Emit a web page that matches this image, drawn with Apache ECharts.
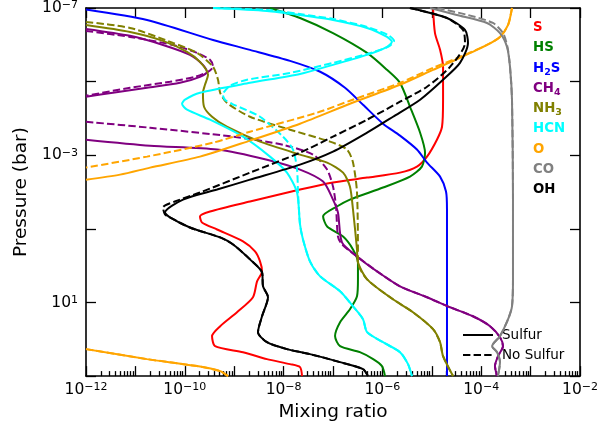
<!DOCTYPE html>
<html><head><meta charset="utf-8">
<script src="https://cdn.jsdelivr.net/npm/echarts@6/dist/echarts.min.js"></script>
<style>html,body{margin:0;padding:0;background:#fff}#c{width:613px;height:427px}</style>
</head><body><div id="c"></div>
<script>
// ---- axis ticks ----
const xMajor = [1e-12,1e-11,1e-10,1e-9,1e-8,1e-7,1e-6,1e-5,1e-4,1e-3,1e-2];
const xLabelVals = [1e-12,1e-10,1e-8,1e-6,1e-4,1e-2];
const yMajor = [1e-7,1e-5,1e-3,1e-1,1e1,1e3];
const yLabelVals = [1e-7,1e-3,1e1];

// ---- profiles: [mixing ratio, pressure (bar)] ----
// Sulfur run (solid)
const S_sulfur = [[1.06e-5,1e-7],[1.16e-5,4.8e-7],[1.47e-5,1.37e-6],[1.69e-5,3.97e-6],[1.69e-5,3.1e-5],[1.61e-5,1.68e-4],[1.27e-5,3.78e-4],[8.0e-6,1.09e-3],[5.0e-6,2.04e-3],[2.27e-6,2.97e-3],[4.9e-7,4.05e-3],[1.0e-7,5.5e-3],[2.15e-8,8.55e-3],[2.09e-9,1.81e-2],[3.24e-10,3.37e-2],[2.03e-10,4.6e-2],[2.23e-10,6.7e-2],[4.5e-10,0.104],[1.51e-9,0.219],[2.64e-9,0.41],[3.33e-9,0.763],[3.66e-9,1.43],[2.9e-9,2.66],[2.4e-9,7.2],[1.14e-9,18.4],[5.2e-10,44],[3.56e-10,82],[4.1e-10,154],[1.51e-9,224],[4.6e-9,346],[1.35e-8,473],[2.15e-8,570],[2.36e-8,1000]];
const HS_sulfur = [[5.3e-9,1e-7],[2.15e-8,1.87e-7],[1.0e-7,4.8e-7],[4.9e-7,1.66e-6],[1.24e-6,4.79e-6],[2.27e-6,1.08e-5],[3.62e-6,4.82e-5],[5.8e-6,2.44e-4],[7.3e-6,8.5e-4],[6.3e-6,2.04e-3],[3.62e-6,3.8e-3],[1.03e-6,7.55e-3],[2.2e-7,1.6e-2],[1.2e-7,2.47e-2],[6.3e-8,4.6e-2],[7.6e-8,8.6e-2],[1.6e-7,0.161],[2.54e-7,0.361],[3.2e-7,0.815],[3.2e-7,2.35],[3.06e-7,6.8],[2.2e-7,15.3],[1.39e-7,34.4],[1.1e-7,82],[1.39e-7,154],[3.5e-7,224],[6.5e-7,346],[9.8e-7,535],[1.13e-6,1000]];
const H2S_sulfur = [[1e-12,1.1e-7],[1.72e-11,2.11e-7],[3.73e-10,7.4e-7],[2.09e-9,1.37e-6],[1.35e-8,2.73e-6],[5.5e-8,5.4e-6],[1.75e-7,1.47e-5],[4.05e-7,4.26e-5],[1.03e-6,1.39e-4],[2.27e-6,2.94e-4],[5.0e-6,7.0e-4],[8.0e-6,1.58e-3],[1.47e-5,3.8e-3],[1.94e-5,9.7e-3],[2.03e-5,2.98e-2],[2.03e-5,1000]];
const CH4_sulfur_upper = [[1e-12,3.7e-7],[7.8e-12,5.7e-7],[3.62e-11,1.01e-6],[1.27e-10,1.88e-6],[2.33e-10,3.5e-6],[2.81e-10,5.4e-6],[2.03e-10,7.4e-6],[8.0e-11,1.08e-5],[1.72e-11,1.47e-5],[3.5e-12,2.01e-5],[1e-12,2.58e-5]];
const CH4_sulfur_lower = [[1e-12,3.78e-4],[1.98e-11,5.5e-4],[4.5e-10,7.0e-4],[4.6e-9,1.32e-3],[2.15e-8,2.45e-3],[6.3e-8,5.2e-3],[1.0e-7,1.6e-2],[1.26e-7,3.6e-2],[1.52e-7,0.234],[3.06e-7,0.56],[7.8e-7,1.43],[2.27e-6,3.64],[8.0e-6,7.2],[2.34e-5,13.5],[6.8e-5,23.7],[1.51e-4,44],[2.4e-4,88],[2.76e-4,154],[2.19e-4,287],[1.9e-4,535],[2.09e-4,1000]];
const NH3_sulfur = [[1e-12,2.89e-7],[7.8e-12,4.47e-7],[3.62e-11,7.8e-7],[1.11e-10,1.56e-6],[2.03e-10,2.9e-6],[2.95e-10,6.5e-6],[2.56e-10,1.22e-5],[2.33e-10,2.01e-5],[2.45e-10,4.82e-5],[3.56e-10,9.0e-5],[7.1e-10,1.68e-4],[3.33e-9,4.28e-4],[2.15e-8,9.6e-4],[7.6e-8,1.58e-3],[1.6e-7,2.97e-3],[2.2e-7,7.1e-3],[2.54e-7,2.98e-2],[3.06e-7,0.361],[3.2e-7,0.815],[4.9e-7,2.35],[1.64e-6,8.2],[4.16e-6,18.4],[1.06e-5,53],[1.47e-5,120],[1.69e-5,287],[2.69e-5,1000]];
const HCN_sulfur = [[3.73e-10,1e-7],[4.6e-9,1.2e-7],[2.15e-8,1.55e-7],[1.0e-7,2.11e-7],[4.9e-7,3.48e-7],[1.24e-6,6.1e-7],[1.56e-6,8.3e-7],[1.24e-6,1.14e-6],[4.9e-7,1.88e-6],[1.0e-7,3.5e-6],[2.15e-8,6.2e-6],[2.09e-9,1.08e-5],[2.03e-10,2.01e-5],[1.01e-10,3.1e-5],[8.8e-11,4.0e-5],[1.11e-10,5.8e-5],[3.24e-10,1.08e-4],[1.51e-9,3.13e-4],[5.3e-9,1.09e-3],[1.17e-8,2.97e-3],[1.87e-8,1.03e-2],[2.15e-8,7.6e-2],[2.47e-8,0.194],[3.42e-8,0.763],[5.5e-8,1.95],[1.39e-7,4.97],[2.54e-7,12.7],[4.05e-7,28.5],[4.9e-7,64],[1.03e-6,120],[2.27e-6,224],[3.3e-6,473],[3.97e-6,1000]];
const O_sulfur_upper = [[4.2e-4,1e-7],[3.5e-4,2.89e-7],[2.4e-4,6.1e-7],[1.31e-4,1.01e-6],[3.72e-5,2.26e-6],[1.06e-5,4.79e-6],[2.27e-6,1.22e-5],[2.2e-7,4.0e-5],[2.15e-8,1.39e-4],[2.09e-9,4.0e-4],[2.03e-10,1.09e-3],[1.98e-11,2.17e-3],[4.9e-12,3.36e-3],[1e-12,4.6e-3]];
const O_sulfur_deep = [[1e-12,185],[1.72e-11,346],[1.77e-10,535],[5.2e-10,731],[7.5e-10,1000]];
const CO_sulfur = [[9.2e-6,1e-7],[3.2e-5,1.55e-7],[1.31e-4,2.55e-7],[2.4e-4,4.8e-7],[3.33e-4,1.14e-6],[3.83e-4,3.97e-6],[4.2e-4,3.1e-5],[4.4e-4,1.6e-2],[4.4e-4,2.35],[4.2e-4,12.7],[3.5e-4,28.5],[2.4e-4,82],[1.66e-4,154],[2.09e-4,224],[2.4e-4,417],[2.19e-4,1000]];
const OH_sulfur = [[3.6e-6,1e-7],[2.03e-5,1.87e-7],[4.7e-5,3.94e-7],[5.4e-5,8.9e-7],[3.72e-5,3.1e-6],[1.69e-5,8.9e-6],[5.8e-6,3.1e-5],[1.64e-6,9.0e-5],[4.9e-7,2.44e-4],[1.0e-7,8.0e-4],[2.15e-8,1.8e-3],[2.09e-9,4.6e-3],[4.5e-10,8.55e-3],[9.2e-11,1.6e-2],[3.97e-11,3.6e-2],[5.0e-11,4.9e-2],[1.27e-10,9.2e-2],[5.2e-10,0.171],[9.5e-10,0.265],[2.09e-9,0.675],[3.66e-9,1.52],[3.83e-9,3.64],[4.83e-9,7.2],[3.66e-9,23.7],[3.03e-9,64],[4.6e-9,120],[1.17e-8,185],[3.42e-8,253],[1.39e-7,418],[4.05e-7,646],[5.1e-7,1000]];

// No-sulfur run (dashed)
const CH4_nosulfur_upper = [[1e-12,4.2e-7],[7.8e-12,6.1e-7],[5.8e-11,1.01e-6],[1.77e-10,1.66e-6],[3.24e-10,2.56e-6],[3.73e-10,3.97e-6],[2.95e-10,5.4e-6],[1.61e-10,7.4e-6],[5.0e-11,1.01e-5],[7.8e-12,1.47e-5],[1e-12,2.43e-5]];
const CH4_nosulfur_lower = [[1e-12,1.23e-4],[1.98e-11,1.79e-4],[9.5e-10,3.13e-4],[9.7e-9,5.2e-4],[3.94e-8,9.6e-4],[7.6e-8,2.45e-3],[1.0e-7,7.1e-3],[1.15e-7,2.47e-2],[1.26e-7,0.161],[1.52e-7,0.265],[3.06e-7,0.56],[7.8e-7,1.43],[2.27e-6,3.64],[8.0e-6,7.2],[2.34e-5,13.5],[6.8e-5,23.7],[1.51e-4,44],[2.4e-4,88],[2.76e-4,154],[2.19e-4,287],[1.9e-4,535],[2.09e-4,1000]];
const NH3_nosulfur = [[1e-12,2.39e-7],[7.8e-12,3.48e-7],[5.8e-11,8.9e-7],[1.77e-10,1.66e-6],[3.73e-10,3.97e-6],[4.7e-10,8.9e-6],[5.2e-10,2.01e-5],[7.1e-10,3.76e-5],[2.09e-9,9.0e-5],[1.35e-8,2.02e-4],[8.7e-8,4.28e-4],[1.92e-7,7.0e-4],[2.54e-7,1.58e-3],[3.06e-7,1.03e-2],[3.2e-7,0.675],[3.2e-7,0.815],[4.9e-7,2.35],[1.64e-6,8.2],[4.16e-6,18.4],[1.06e-5,53],[1.47e-5,120],[1.69e-5,287],[2.69e-5,1000]];
const HCN_nosulfur = [[3.73e-10,1e-7],[4.6e-9,1.13e-7],[2.15e-8,1.46e-7],[1.0e-7,1.99e-7],[4.9e-7,3.27e-7],[1.3e-6,5.4e-7],[1.72e-6,7.8e-7],[1.3e-6,1.14e-6],[4.9e-7,1.77e-6],[1.0e-7,3.1e-6],[1.35e-8,5.8e-6],[1.82e-9,8.9e-6],[8.2e-10,1.3e-5],[5.9e-10,2.28e-5],[6.5e-10,3.1e-5],[9.0e-10,4.0e-5],[3.33e-9,9.0e-5],[9.7e-9,3.13e-4],[1.55e-8,7.0e-4],[1.87e-8,2.45e-3],[1.96e-8,1.03e-2],[2.15e-8,7.6e-2],[2.47e-8,0.194],[3.42e-8,0.763],[5.5e-8,1.95],[1.39e-7,4.97],[2.54e-7,12.7],[4.05e-7,28.5],[4.9e-7,64],[1.03e-6,120],[2.27e-6,224],[3.3e-6,473],[3.97e-6,1000]];
const O_nosulfur_upper = [[4.2e-4,1e-7],[3.5e-4,2.89e-7],[2.4e-4,6.1e-7],[1.31e-4,1.01e-6],[3.72e-5,2.13e-6],[1.06e-5,4.23e-6],[2.27e-6,1.08e-5],[2.2e-7,3.31e-5],[4.74e-8,7.0e-5],[2.09e-9,2.29e-4],[3.73e-10,4.56e-4],[1.72e-11,1.09e-3],[1e-12,2.17e-3]];
const O_nosulfur_deep = [[1e-12,185],[1.72e-11,346],[1.77e-10,535],[5.2e-10,731],[7.5e-10,1000]];
const CO_nosulfur = [[1.3e-5,1e-7],[5.4e-5,1.55e-7],[1.73e-4,2.55e-7],[2.76e-4,4.8e-7],[3.4e-4,1.14e-6],[3.83e-4,3.97e-6],[4.2e-4,3.1e-5],[4.4e-4,1.6e-2],[4.4e-4,2.35],[4.2e-4,12.7],[3.5e-4,28.5],[2.4e-4,82],[1.66e-4,154],[2.09e-4,224],[2.4e-4,417],[2.19e-4,1000]];
const OH_nosulfur = [[3.6e-6,1e-7],[2.03e-5,1.87e-7],[4.28e-5,3.94e-7],[4.7e-5,8.9e-7],[2.34e-5,3.97e-6],[8.0e-6,1.38e-5],[2.27e-6,3.52e-5],[4.9e-7,1.08e-4],[1.0e-7,3.13e-4],[2.15e-8,8.5e-4],[2.09e-9,2.97e-3],[2.03e-10,1.03e-2],[6.3e-11,1.81e-2],[3.62e-11,2.63e-2],[3.97e-11,4.07e-2],[5.0e-11,4.9e-2],[1.27e-10,9.2e-2],[5.2e-10,0.171],[9.5e-10,0.265],[2.09e-9,0.675],[3.66e-9,1.52],[3.83e-9,3.64],[4.83e-9,7.2],[3.66e-9,23.7],[3.03e-9,64],[4.6e-9,120],[1.17e-8,185],[3.42e-8,253],[1.39e-7,418],[4.05e-7,646],[5.1e-7,1000]];

// species labels (rich text, subscripts marked) and colours
const species = ['{n|S}','{n|HS}','{n|H}{d|2}{n|S}','{n|CH}{d|4}','{n|NH}{d|3}','{n|HCN}','{n|O}','{n|CO}','{n|OH}'];
const colors = ['#ff0000','#008000','#0000ff','#800080','#808000','#00ffff','#ffa500','#808080','#000000'];

// ---- build ----
const FONT = 'DejaVu Sans';
const xMinor = [];
for (let i = 0; i < xMajor.length - 1; i++) for (let m = 2; m <= 9; m++) xMinor.push(m * xMajor[i]);

function powLabel(v){
  const e = Math.round(Math.log10(v));
  return '{b|10}{s|' + (e < 0 ? '\u2212' + (-e) : e) + '}';
}
const labelRich = {
  b: {fontSize: 15.5, fontFamily: FONT, color: '#000'},
  s: {fontSize: 11, fontFamily: FONT, color: '#000', verticalAlign: 'top'}
};
function line(data, color, dashed){
  return {type:'line', data, xAxisIndex:0, yAxisIndex:0, symbol:'none', smooth:0.25,
    silent:true, animation:false, clip:true,
    lineStyle:{color, width:2, type: dashed ? [7.4,3.2] : 'solid'}, itemStyle:{color}};
}
const series = [
  line(S_sulfur, colors[0]),
  line(HS_sulfur, colors[1]),
  line(H2S_sulfur, colors[2]),
  line(CH4_sulfur_upper, colors[3]), line(CH4_sulfur_lower, colors[3]),
  line(CH4_nosulfur_upper, colors[3], true), line(CH4_nosulfur_lower, colors[3], true),
  line(NH3_sulfur, colors[4]), line(NH3_nosulfur, colors[4], true),
  line(HCN_sulfur, colors[5]), line(HCN_nosulfur, colors[5], true),
  line(O_sulfur_upper, colors[6]), line(O_sulfur_deep, colors[6]),
  line(O_nosulfur_upper, colors[6], true), line(O_nosulfur_deep, colors[6], true),
  line(CO_sulfur, colors[7]), line(CO_nosulfur, colors[7], true),
  line(OH_sulfur, colors[8]), line(OH_nosulfur, colors[8], true)
];

const axisLineStyle = {color:'#000', width:1.6};
const tickStyle = {color:'#000', width:1.3};
const base = {type:'log', splitLine:{show:false}, minorTick:{show:false}, minorSplitLine:{show:false}};
const xBase = Object.assign({}, base, {min:1e-12, max:1e-2, gridIndex:0});
const yBase = Object.assign({}, base, {min:1e-7, max:1e3, inverse:true, gridIndex:0});

const graphics = [];
species.forEach((s, i) => {
  const c = colors[i];
  graphics.push({type:'text', x:533, y: 29 + i*20.3, silent:true,
    style:{text:s, fill:c, verticalAlign:'middle', align:'left',
      rich:{
        n:{fontSize:13.3, fontWeight:'bold', fontFamily:FONT, fill:c, color:c, lineHeight:16, verticalAlign:'top'},
        d:{fontSize:9.5, fontWeight:'bold', fontFamily:FONT, fill:c, color:c, lineHeight:12, verticalAlign:'top', padding:[5.5,0,0,0]}
      }}});
});
graphics.push({type:'line', shape:{x1:463,y1:335,x2:493,y2:335}, style:{stroke:'#000', lineWidth:2}, silent:true});
graphics.push({type:'line', shape:{x1:463,y1:355,x2:493,y2:355}, style:{stroke:'#000', lineWidth:2, lineDash:[7.4,3.2]}, silent:true});
graphics.push({type:'text', x:502, y:335, style:{text:'Sulfur', fill:'#000', font:'13.5px "DejaVu Sans"', verticalAlign:'middle'}, silent:true});
graphics.push({type:'text', x:502, y:355, style:{text:'No Sulfur', fill:'#000', font:'13.5px "DejaVu Sans"', verticalAlign:'middle'}, silent:true});

const option = {
  backgroundColor:'#fff',
  animation:false,
  textStyle:{fontFamily:FONT},
  grid:{left:86, top:8, width:494, height:369, containLabel:false},
  xAxis:[
    Object.assign({}, xBase, {position:'bottom',
      name:'Mixing ratio', nameLocation:'middle', nameGap:23,
      nameTextStyle:{fontSize:18.5, fontFamily:FONT, color:'#000'},
      axisLine:{show:true, lineStyle:axisLineStyle},
      axisTick:{show:true, inside:true, length:10, lineStyle:tickStyle, customValues:xMajor},
      axisLabel:{show:true, customValues:xLabelVals, formatter:powLabel, rich:labelRich, margin:6}}),
    Object.assign({}, xBase, {position:'bottom',
      axisLine:{show:false}, axisLabel:{show:false},
      axisTick:{show:true, inside:true, length:5, lineStyle:tickStyle, customValues:xMinor}}),
    Object.assign({}, xBase, {position:'top',
      axisLine:{show:true, lineStyle:axisLineStyle}, axisLabel:{show:false},
      axisTick:{show:true, inside:true, length:10, lineStyle:tickStyle, customValues:xMajor}})
  ],
  yAxis:[
    Object.assign({}, yBase, {position:'left',
      name:'Pressure (bar)', nameLocation:'middle', nameGap:34,
      nameTextStyle:{fontSize:18.5, fontFamily:FONT, color:'#000'},
      axisLine:{show:true, lineStyle:axisLineStyle},
      axisTick:{show:true, inside:true, length:10, lineStyle:tickStyle, customValues:yMajor},
      axisLabel:{show:true, customValues:yLabelVals, formatter:powLabel, rich:labelRich, margin:8}}),
    Object.assign({}, yBase, {position:'right',
      axisLine:{show:true, lineStyle:axisLineStyle}, axisLabel:{show:false},
      axisTick:{show:true, inside:true, length:10, lineStyle:tickStyle, customValues:yMajor}})
  ],
  series,
  graphic: graphics
};
const chart = echarts.init(document.getElementById('c'), null, {renderer:'canvas'});
chart.setOption(option);
</script></body></html>
